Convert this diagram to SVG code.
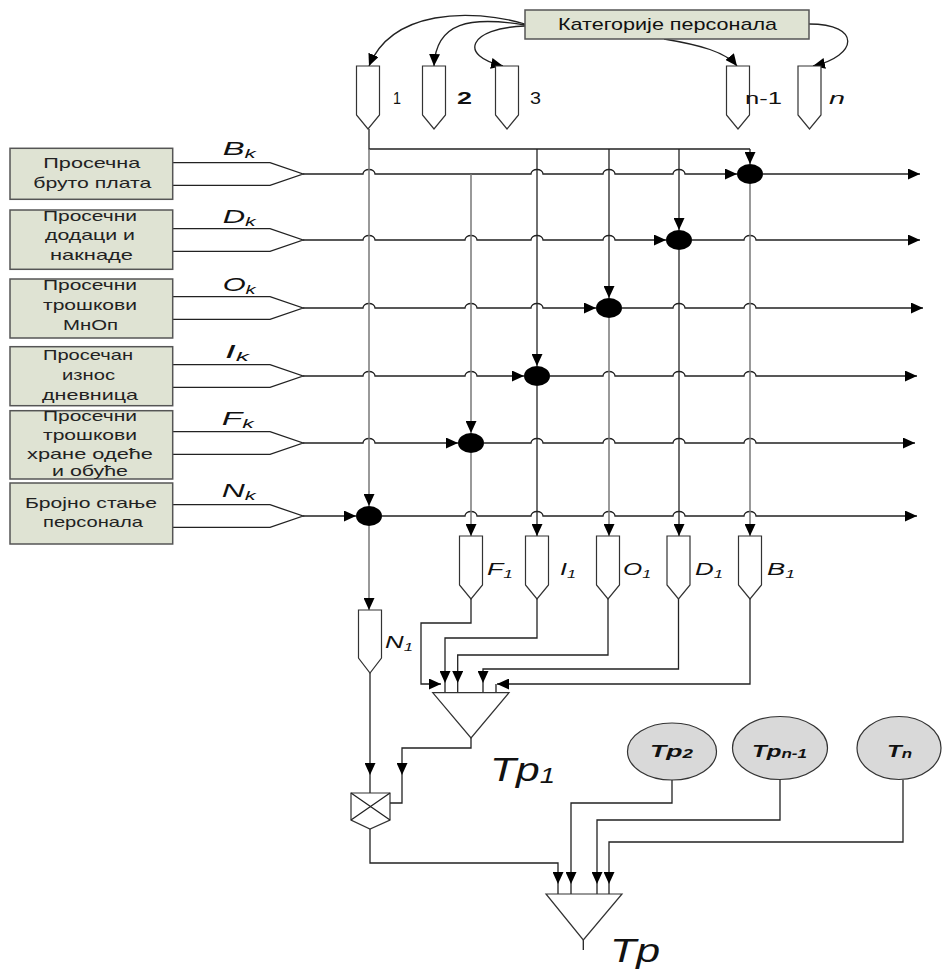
<svg xmlns="http://www.w3.org/2000/svg" width="943" height="970" viewBox="0 0 943 970">
<style>
.bx{fill:#dfe3d3;stroke:#555;stroke-width:1.5}
.bt{font-family:"Liberation Sans",Arial,sans-serif;font-size:14.5px;fill:#222}
.lb{font-family:"Liberation Sans",Arial,sans-serif;font-style:italic;font-size:19px;fill:#111}
.ol{font-family:"Liberation Sans",Arial,sans-serif;font-style:italic;font-size:17px;fill:#111}
.nb{font-family:"Liberation Sans",Arial,sans-serif;font-size:17px;fill:#111}
.pg{fill:#fff;stroke:#333;stroke-width:1.2}
.jn{fill:#000}
.ln{fill:none;stroke:#222;stroke-width:1.3}
.lg{fill:none;stroke:#777;stroke-width:1.5}
.ar{marker-end:url(#ah)}
.el{fill:#d9d9d9;stroke:#333;stroke-width:1.2}
.et{font-family:"Liberation Sans",Arial,sans-serif;font-style:italic;font-weight:bold;font-size:17px;fill:#111}
.big{font-family:"Liberation Sans",Arial,sans-serif;font-style:italic;font-size:34px;fill:#111}
</style>
<defs>
<marker id="ah" markerUnits="userSpaceOnUse" markerWidth="13" markerHeight="11" refX="12" refY="5.5" orient="auto">
<path d="M0,0 L12,5.5 L0,11 Z" fill="#000"/>
</marker>
</defs>

<g id="connectors">
<path class="ln ar" d="M525,24 C470,8 392,10 369,66"/>
<path class="ln ar" d="M525,25 C470,16 436,22 434,66"/>
<path class="ln ar" d="M525,26 C468,28 458,56 503,66"/>
<path class="ln ar" d="M664,39 C700,45 726,52 737,66"/>
<path class="ln ar" d="M809,24 C862,24 858,56 813,66"/>

<polyline class="ln" points="172,162.7 270,162.7 303,174 270,185.3 172,185.3"/>
<polyline class="ln" points="172,228.7 270,228.7 303,240 270,251.3 172,251.3"/>
<polyline class="ln" points="172,296.7 270,296.7 303,308 270,319.3 172,319.3"/>
<polyline class="ln" points="172,364.7 270,364.7 303,376 270,387.3 172,387.3"/>
<polyline class="ln" points="172,431.7 270,431.7 303,443 270,454.3 172,454.3"/>
<polyline class="ln" points="172,504.7 270,504.7 303,516 270,527.3 172,527.3"/>

<path class="ln ar" d="M303,174 H363 a6,4.5 0 0 1 12,0 H531 a6,4.5 0 0 1 12,0 H603 a6,4.5 0 0 1 12,0 H673 a6,4.5 0 0 1 12,0 H737"/>
<path class="ln ar" d="M763,174 H920"/>
<path class="ln ar" d="M303,240 H363 a6,4.5 0 0 1 12,0 H465 a6,4.5 0 0 1 12,0 H531 a6,4.5 0 0 1 12,0 H603 a6,4.5 0 0 1 12,0 H666"/>
<path class="ln ar" d="M692,240 H744 a6,4.5 0 0 1 12,0 H920"/>
<path class="ln ar" d="M303,308 H363 a6,4.5 0 0 1 12,0 H465 a6,4.5 0 0 1 12,0 H531 a6,4.5 0 0 1 12,0 H596"/>
<path class="ln ar" d="M622,308 H673 a6,4.5 0 0 1 12,0 H744 a6,4.5 0 0 1 12,0 H923"/>
<path class="ln ar" d="M303,376 H363 a6,4.5 0 0 1 12,0 H465 a6,4.5 0 0 1 12,0 H524"/>
<path class="ln ar" d="M550,376 H603 a6,4.5 0 0 1 12,0 H673 a6,4.5 0 0 1 12,0 H744 a6,4.5 0 0 1 12,0 H917"/>
<path class="ln ar" d="M303,443 H363 a6,4.5 0 0 1 12,0 H458"/>
<path class="ln ar" d="M484,443 H531 a6,4.5 0 0 1 12,0 H603 a6,4.5 0 0 1 12,0 H673 a6,4.5 0 0 1 12,0 H744 a6,4.5 0 0 1 12,0 H915"/>
<path class="ln ar" d="M303,516 H356"/>
<path class="ln ar" d="M382,516 H465 a6,4.5 0 0 1 12,0 H531 a6,4.5 0 0 1 12,0 H603 a6,4.5 0 0 1 12,0 H673 a6,4.5 0 0 1 12,0 H744 a6,4.5 0 0 1 12,0 H917"/>

<path class="ln" d="M369,129 V149 H750"/>
<path class="lg ar" d="M369,149 V506"/>
<path class="ln ar" d="M750,149 V164"/>
<path class="ln ar" d="M679,149 V230"/>
<path class="ln ar" d="M609,149 V298"/>
<path class="ln ar" d="M537,149 V366"/>
<path class="lg ar" d="M471,174 V433"/>
<path class="lg ar" d="M750,184 V536"/>
<path class="ln ar" d="M679,250 V536"/>
<path class="lg ar" d="M609,318 V536"/>
<path class="ln ar" d="M537,386 V536"/>
<path class="lg ar" d="M471,453 V536"/>
<path class="lg ar" d="M369,526 V610"/>

<path class="ln ar" d="M471,599 V623 H421 V684 H441"/>
<path class="ln ar" d="M537,599 V638 H445 V683"/>
<path class="ln ar" d="M608,599 V655 H457.7 V683"/>
<path class="ln ar" d="M678.5,599 V669 H483 V683"/>
<path class="ln ar" d="M750,599 V684 H497"/>
<path class="ln" d="M445,683 V693 M457.7,683 V693 M483,683 V693 M496,684 V693"/>

<path class="ln ar" d="M471,738 V748 H402 V775"/>
<path class="ln" d="M402,775 V803 H390"/>
<path class="ln ar" d="M370,673 V775"/>
<path class="ln" d="M370,775 V793"/>

<path class="ln ar" d="M370,829 V863 H558 V884"/>
<path class="ln ar" d="M672,780 V803 H571 V884"/>
<path class="ln ar" d="M780,780 V820 H597 V884"/>
<path class="ln ar" d="M903,780 V842 H609 V884"/>
<path class="ln" d="M558,884 V894 M571,884 V894 M597,884 V894 M609,884 V894"/>
<path class="ln" d="M583.3,940 V950"/>
</g>

<g id="categories">
<rect class="bx" x="525" y="10" width="284" height="29"/>
<text class="nb" x="558" y="30" textLength="219" lengthAdjust="spacingAndGlyphs">Категорије персонала</text>
</g>

<g id="cat-1"><path class="pg" d="M356.5,66 H379.5 V115 L368,129 L356.5,115 Z"/><text class="nb" x="393" y="104" textLength="8" lengthAdjust="spacingAndGlyphs">1</text></g>
<g id="cat-2"><path class="pg" d="M422.5,66 H445.5 V115 L434,129 L422.5,115 Z"/><text class="nb" x="457" y="104" font-weight="bold" textLength="15" lengthAdjust="spacingAndGlyphs">2</text></g>
<g id="cat-3"><path class="pg" d="M495.5,66 H518.5 V115 L507,129 L495.5,115 Z"/><text class="nb" x="530" y="104" textLength="11" lengthAdjust="spacingAndGlyphs">3</text></g>
<g id="cat-n-1"><path class="pg" d="M726.5,66 H749.5 V115 L738,129 L726.5,115 Z"/><text class="nb" x="745" y="104" textLength="37" lengthAdjust="spacingAndGlyphs">n-1</text></g>
<g id="cat-n"><path class="pg" d="M798,66 H821 V115 L809.5,129 L798,115 Z"/><text class="nb" x="829" y="104" font-style="italic" textLength="16" lengthAdjust="spacingAndGlyphs">n</text></g>

<g id="box-B">
<rect class="bx" x="10" y="148.3" width="162.7" height="51"/>
<text class="bt" x="43.3" y="168" textLength="97" lengthAdjust="spacingAndGlyphs">Просечна</text>
<text class="bt" x="33.3" y="188" textLength="118" lengthAdjust="spacingAndGlyphs">бруто плата</text>
<text class="lb" x="222.7" y="155" textLength="33" lengthAdjust="spacingAndGlyphs">B<tspan font-size="13" dy="3">k</tspan></text>
</g>
<g id="box-D">
<rect class="bx" x="10" y="210" width="162.7" height="59.3"/>
<text class="bt" x="43" y="221" textLength="94" lengthAdjust="spacingAndGlyphs">Просечни</text>
<text class="bt" x="45" y="240" textLength="90" lengthAdjust="spacingAndGlyphs">додаци и</text>
<text class="bt" x="50" y="260" textLength="83" lengthAdjust="spacingAndGlyphs">накнаде</text>
<text class="lb" x="222.7" y="223" textLength="33" lengthAdjust="spacingAndGlyphs">D<tspan font-size="13" dy="3">k</tspan></text>
</g>
<g id="box-O">
<rect class="bx" x="10" y="279" width="162.7" height="59"/>
<text class="bt" x="43" y="290" textLength="94" lengthAdjust="spacingAndGlyphs">Просечни</text>
<text class="bt" x="43" y="310" textLength="94" lengthAdjust="spacingAndGlyphs">трошкови</text>
<text class="bt" x="63" y="330" textLength="55" lengthAdjust="spacingAndGlyphs">МнОп</text>
<text class="lb" x="222.7" y="291" textLength="33" lengthAdjust="spacingAndGlyphs">O<tspan font-size="13" dy="3">k</tspan></text>
</g>
<g id="box-I">
<rect class="bx" x="10" y="346.7" width="162.7" height="59"/>
<text class="bt" x="43" y="360" textLength="90" lengthAdjust="spacingAndGlyphs">Просечан</text>
<text class="bt" x="62" y="380" textLength="53" lengthAdjust="spacingAndGlyphs">износ</text>
<text class="bt" x="42" y="400" textLength="96" lengthAdjust="spacingAndGlyphs">дневница</text>
<text class="lb" x="225" y="358" textLength="24" lengthAdjust="spacingAndGlyphs">I<tspan font-size="13" dy="3">k</tspan></text>
</g>
<g id="box-F">
<rect class="bx" x="10" y="410.7" width="162.7" height="68.3"/>
<text class="bt" x="43" y="421" textLength="94" lengthAdjust="spacingAndGlyphs">Просечни</text>
<text class="bt" x="43" y="440" textLength="94" lengthAdjust="spacingAndGlyphs">трошкови</text>
<text class="bt" x="27" y="459" textLength="126" lengthAdjust="spacingAndGlyphs">хране  одеће</text>
<text class="bt" x="52" y="476" textLength="76" lengthAdjust="spacingAndGlyphs">и обуће</text>
<text class="lb" x="221.7" y="425" textLength="32" lengthAdjust="spacingAndGlyphs">F<tspan font-size="13" dy="3">k</tspan></text>
</g>
<g id="box-N">
<rect class="bx" x="10" y="483" width="162.7" height="61"/>
<text class="bt" x="25" y="508" textLength="132" lengthAdjust="spacingAndGlyphs">Бројно стање</text>
<text class="bt" x="43" y="527" textLength="100" lengthAdjust="spacingAndGlyphs">персонала</text>
<text class="lb" x="221.7" y="497" textLength="34" lengthAdjust="spacingAndGlyphs">N<tspan font-size="13" dy="3">k</tspan></text>
</g>

<g id="junction-B"><ellipse class="jn" cx="750" cy="174" rx="13" ry="10"/></g>
<g id="junction-D"><ellipse class="jn" cx="679" cy="240" rx="13" ry="10"/></g>
<g id="junction-O"><ellipse class="jn" cx="609" cy="308" rx="13" ry="10"/></g>
<g id="junction-I"><ellipse class="jn" cx="537" cy="376" rx="13" ry="10"/></g>
<g id="junction-F"><ellipse class="jn" cx="471" cy="443" rx="13" ry="10"/></g>
<g id="junction-N"><ellipse class="jn" cx="369" cy="516" rx="13" ry="10"/></g>

<g id="out-F1"><path class="pg" d="M459.5,536 H482.5 V585 L471,599 L459.5,585 Z"/><text class="ol" x="487" y="575" textLength="26" lengthAdjust="spacingAndGlyphs">F<tspan font-size="11" dy="3">1</tspan></text></g>
<g id="out-I1"><path class="pg" d="M525.5,536 H548.5 V585 L537,599 L525.5,585 Z"/><text class="ol" x="560" y="575" textLength="16" lengthAdjust="spacingAndGlyphs">I<tspan font-size="11" dy="3">1</tspan></text></g>
<g id="out-O1"><path class="pg" d="M596.5,536 H619.5 V585 L608,599 L596.5,585 Z"/><text class="ol" x="623" y="575" textLength="28" lengthAdjust="spacingAndGlyphs">O<tspan font-size="11" dy="3">1</tspan></text></g>
<g id="out-D1"><path class="pg" d="M667,536 H690 V585 L678.5,599 L667,585 Z"/><text class="ol" x="695" y="575" textLength="28" lengthAdjust="spacingAndGlyphs">D<tspan font-size="11" dy="3">1</tspan></text></g>
<g id="out-B1"><path class="pg" d="M738.5,536 H761.5 V585 L750,599 L738.5,585 Z"/><text class="ol" x="767" y="575" textLength="28" lengthAdjust="spacingAndGlyphs">B<tspan font-size="11" dy="3">1</tspan></text></g>
<g id="out-N1"><path class="pg" d="M358.5,610 H381.5 V658 L370,673 L358.5,658 Z"/><text class="ol" x="385" y="648" textLength="28" lengthAdjust="spacingAndGlyphs">N<tspan font-size="11" dy="3">1</tspan></text></g>

<g id="sum-Tp1">
<path class="pg" d="M432.7,692.7 H509 L471,738 Z"/>
<text class="big" x="490" y="781" textLength="65" lengthAdjust="spacingAndGlyphs">Tp<tspan font-size="22" dy="2">1</tspan></text>
</g>

<g id="multiplier">
<path class="pg" d="M351,793 H390 V820 L370,829 L351,820 Z"/>
<path class="ln" d="M351,793 L390,820 M390,793 L351,820" stroke-width="1"/>
</g>

<g id="node-Tp2"><ellipse class="el" cx="672" cy="751.5" rx="44.5" ry="28.5"/><text class="et" x="650" y="757" textLength="43" lengthAdjust="spacingAndGlyphs">Tp<tspan font-size="12" dy="1">2</tspan></text></g>
<g id="node-Tpn-1"><ellipse class="el" cx="780" cy="748" rx="47.5" ry="31.5"/><text class="et" x="752" y="757" textLength="55" lengthAdjust="spacingAndGlyphs">Tp<tspan font-size="12" dy="1">n-1</tspan></text></g>
<g id="node-Tn"><ellipse class="el" cx="899" cy="748" rx="42" ry="31.5"/><text class="et" x="887" y="757" textLength="25" lengthAdjust="spacingAndGlyphs">T<tspan font-size="12" dy="1">n</tspan></text></g>

<g id="sum-Tp">
<path class="pg" d="M546,894 H622 L583.3,940 Z"/>
<text class="big" x="610" y="962" textLength="50" lengthAdjust="spacingAndGlyphs">Tp</text>
</g>
</svg>
